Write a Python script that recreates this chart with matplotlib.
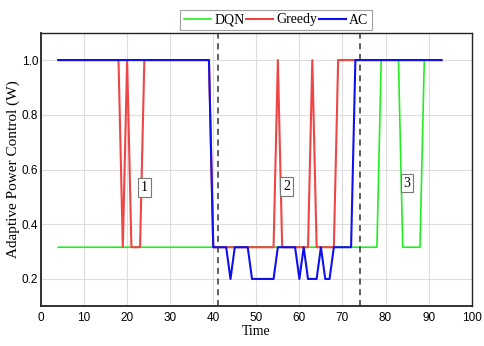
import matplotlib
matplotlib.use("Agg")
import matplotlib.pyplot as plt

# Data
time = list(range(4, 94))
LOW, MID, HIGH = 0.2, 0.316, 1.0

def build(segments):
    vals = []
    for start, end, v in segments:
        vals += [v] * (end - start + 1)
    return vals

dqn_segments = [(4, 78, MID), (79, 83, HIGH), (84, 88, MID), (89, 93, HIGH)]
greedy_segments = [(4, 18, HIGH), (19, 19, MID), (20, 20, HIGH), (21, 23, MID),
                   (24, 39, HIGH), (40, 54, MID), (55, 55, HIGH), (56, 62, MID),
                   (63, 63, HIGH), (64, 68, MID), (69, 93, HIGH)]
ac_segments = [(4, 39, HIGH), (40, 43, MID), (44, 44, LOW), (45, 48, MID),
               (49, 54, LOW), (55, 59, MID), (60, 60, LOW), (61, 61, MID),
               (62, 64, LOW), (65, 65, MID), (66, 67, LOW), (68, 72, MID),
               (73, 93, HIGH)]

dqn = build(dqn_segments)
greedy = build(greedy_segments)
ac = build(ac_segments)

phase_lines = [41, 74]
phase_labels = ["1", "2", "3"]
phase_label_pos = [(24, 0.535), (57, 0.537), (85, 0.55)]

xticks = list(range(0, 101, 10))
yticks = [0.2, 0.4, 0.6, 0.8, 1.0]

fig = plt.figure(figsize=(4.85, 3.46), dpi=100)
ax = fig.add_axes([0.0845, 0.1147, 0.888, 0.7908])

ax.plot(time, dqn, color="#22ee22", lw=1.2, label="DQN", zorder=3)
ax.plot(time, greedy, color="#f04545", lw=1.5, label="Greedy", zorder=4)
ax.plot(time, ac, color="#1010ee", lw=1.5, label="AC", zorder=5)

for xv in phase_lines:
    ax.axvline(xv, color="#333333", lw=1.1, ls=(0, (4, 3)), zorder=6)

for lab, (x, y) in zip(phase_labels, phase_label_pos):
    ax.text(x, y, lab, family="Liberation Serif", fontsize=10, ha="center", va="center",
            bbox=dict(boxstyle="square,pad=0.2", fc="white", ec="#777777", lw=0.8), zorder=7)

ax.set_xlim(0, 100)
ax.set_ylim(0.1, 1.1)
ax.set_xticks(xticks)
ax.set_yticks(yticks)
ax.set_yticklabels([f"{v:.1f}" for v in yticks])
ax.tick_params(length=0, labelsize=8.5)
ax.tick_params(axis="y", pad=2)
ax.tick_params(axis="x", pad=4)
for lbl in ax.get_xticklabels() + ax.get_yticklabels():
    lbl.set_family("Liberation Sans")
ax.grid(True, color="#dddddd", lw=0.8)
ax.set_axisbelow(True)
for s in ax.spines.values():
    s.set_color("#222222")
    s.set_linewidth(1.0)
ax.spines["left"].set_linewidth(1.3)
ax.spines["bottom"].set_linewidth(1.3)

ax.set_xlabel("Time", family="Liberation Serif", fontsize=10, labelpad=1)
ax.set_ylabel("Adaptive Power Control (W)", family="Liberation Serif", fontsize=11, labelpad=1.5)

leg = fig.legend(loc="center", bbox_to_anchor=(276 / 485, 1 - 20 / 346), ncol=3,
                 prop={"family": "Liberation Serif", "size": 10}, frameon=True,
                 fancybox=False, edgecolor="#888888", handlelength=2.0,
                 handletextpad=0.2, columnspacing=0.1, borderpad=0.25)
leg.get_frame().set_linewidth(0.8)

fig.savefig("out.png", dpi=100)
